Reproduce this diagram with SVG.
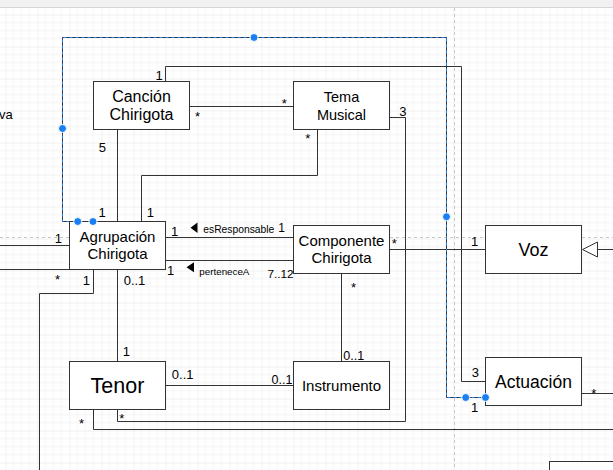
<svg xmlns="http://www.w3.org/2000/svg" width="613" height="470" viewBox="0 0 613 470">
<style>
  .node rect { fill: #ffffff; stroke: #333333; stroke-width: 1; }
  .name { font-family: "Liberation Sans", Arial, sans-serif; fill: #000000; text-anchor: middle; }
  .edge { fill: none; stroke: #333333; stroke-width: 1; }
  .lbl { font-family: "Liberation Sans", Arial, sans-serif; font-size: 13px; fill: #000000; text-anchor: middle; }
  .role { font-family: "Liberation Sans", Arial, sans-serif; font-size: 10.3px; fill: #000000; }
  .sel { fill: none; stroke: #1f7ff0; stroke-width: 1; stroke-dasharray: 3 3; }
  .handle { fill: #1a7ff2; stroke: #ffffff; stroke-width: 1; }
  .pagebreak { fill: none; stroke: #c8c8c8; stroke-width: 1; stroke-dasharray: 3 3; }
</style>
<defs>
  <pattern id="grid" patternUnits="userSpaceOnUse" x="5.5" y="14.5" width="32" height="32">
    <path d="M8 0V32M16 0V32M24 0V32M0 8H32M0 16H32M0 24H32" stroke="#f3f3f3" stroke-width="1" fill="none"/>
    <path d="M0 0V32M0 0H32" stroke="#e4e4e4" stroke-width="1" fill="none"/>
  </pattern>
</defs>

<rect x="0" y="0" width="613" height="470" fill="#ffffff"/>
<rect x="0" y="7" width="613" height="463" fill="url(#grid)"/>
<rect x="0" y="0" width="613" height="7" fill="#f1f1f1"/>
<line x1="0" y1="7.5" x2="613" y2="7.5" stroke="#d5d5d5" stroke-width="1"/>
<path class="pagebreak" d="M454.5 8V470M0 237.5H613"/>

<text class="role" x="-1" y="119" style="font-size:13px">va</text>

<g id="connectors">
  <path class="edge" d="M189.5 106.5H293.5"/>
  <path class="edge" d="M165.5 81.5V66.5H461.5V381.5H485.5"/>
  <path class="edge" d="M117.5 129.5V221.5"/>
  <path class="edge" d="M317.5 129.5V175.5H141.5V221.5"/>
  <path class="edge" d="M389.5 117.5H405.5V421.5H117.5V409.5"/>
  <path class="edge" d="M93.5 409.5V429.5H613"/>
  <path class="edge" d="M165.5 237.5H293.5"/>
  <path class="edge" d="M165.5 260.5H293.5"/>
  <path class="edge" d="M389.5 249.5H485.5"/>
  <path class="edge" d="M613 249.5H597.5"/>
  <polygon points="582.5,249.5 597.5,242 597.5,257" fill="#ffffff" stroke="#333333" stroke-width="1"/>
  <path class="edge" d="M341.5 273.5V361.5"/>
  <path class="edge" d="M165.5 385.5H293.5"/>
  <path class="edge" d="M117.5 269.5V361.5"/>
  <path class="edge" d="M0 245.5H69.5"/>
  <path class="edge" d="M0 269.5H70.5V256.5"/>
  <path class="edge" d="M93.5 269.5V293.5H39.5V470"/>
  <path class="edge" d="M581.5 393.5H613"/>
  <path class="edge" d="M93.5 221.5H62.5V37.5H446.5V397.5H485.5" stroke="#555555"/>
  <path class="sel" d="M93.5 221.5H62.5V37.5H446.5V397.5H485.5"/>
  <polygon points="190.5,227.7 197.5,222.5 197.5,233" fill="#000000"/>
  <polygon points="186.5,267.3 194,262.3 194,272.3" fill="#000000"/>
</g>

<g id="node-cancion" class="node">
  <rect x="93.5" y="81.5" width="96" height="48"/>
  <text class="name" x="141.5" y="101.5" font-size="16">Canción</text>
  <text class="name" x="141.5" y="120" font-size="16">Chirigota</text>
</g>
<g id="node-tema" class="node">
  <rect x="293.5" y="81.5" width="96" height="48"/>
  <text class="name" x="341.5" y="101.5" font-size="14.5">Tema</text>
  <text class="name" x="341.5" y="120" font-size="14.5">Musical</text>
</g>
<g id="node-agrupacion" class="node">
  <rect x="69.5" y="221.5" width="96" height="48"/>
  <text class="name" x="117.5" y="241.7" font-size="15">Agrupación</text>
  <text class="name" x="117.5" y="259" font-size="15">Chirigota</text>
</g>
<g id="node-componente" class="node">
  <rect x="293.5" y="225.5" width="96" height="48"/>
  <text class="name" x="341.5" y="245.7" font-size="15">Componente</text>
  <text class="name" x="341.5" y="263.3" font-size="15">Chirigota</text>
</g>
<g id="node-voz" class="node">
  <rect x="485.5" y="225.5" width="96" height="48"/>
  <text class="name" x="533.5" y="255.7" font-size="18">Voz</text>
</g>
<g id="node-tenor" class="node">
  <rect x="69.5" y="361.5" width="96" height="48"/>
  <text class="name" x="117.5" y="393.3" font-size="21.5">Tenor</text>
</g>
<g id="node-instrumento" class="node">
  <rect x="293.5" y="361.5" width="96" height="48"/>
  <text class="name" x="341.5" y="390.7" font-size="15">Instrumento</text>
</g>
<g id="node-actuacion" class="node">
  <rect x="485.5" y="357.5" width="96" height="48"/>
  <text class="name" x="533.5" y="387.7" font-size="17.5">Actuación</text>
</g>
<g id="node-partial" class="node">
  <rect x="549.5" y="461.5" width="100" height="40"/>
</g>

<g id="handles">
  <circle class="handle" cx="254" cy="37.5" r="4"/>
  <circle class="handle" cx="62.5" cy="128.5" r="4"/>
  <circle class="handle" cx="77.7" cy="221.5" r="4"/>
  <circle class="handle" cx="93" cy="221.5" r="4"/>
  <circle class="handle" cx="446.5" cy="216.7" r="4"/>
  <circle class="handle" cx="465.7" cy="397.5" r="4"/>
  <circle class="handle" cx="485.5" cy="397.5" r="4"/>
</g>

<g id="labels">
  <text class="lbl" x="159" y="80">1</text>
  <text class="lbl" x="197.5" y="121">*</text>
  <text class="lbl" x="284.2" y="108">*</text>
  <text class="lbl" x="102.3" y="152">5</text>
  <text class="lbl" x="102.2" y="217">1</text>
  <text class="lbl" x="150.3" y="217">1</text>
  <text class="lbl" x="307.8" y="143">*</text>
  <text class="lbl" x="402.8" y="115.7">3</text>
  <text class="lbl" x="174.5" y="236">1</text>
  <text class="role" x="203.3" y="232.7">esResponsable</text>
  <text class="lbl" x="281.7" y="232" style="font-size:12px">1</text>
  <text class="lbl" x="170.7" y="275.3">1</text>
  <text class="role" x="199.3" y="274.5" style="font-size:9.8px">perteneceA</text>
  <text class="lbl" x="280.5" y="278.3" style="font-size:11.8px">7..12</text>
  <text class="lbl" x="58.3" y="243.3">1</text>
  <text class="lbl" x="57.5" y="284">*</text>
  <text class="lbl" x="86.3" y="285">1</text>
  <text class="lbl" x="134.5" y="285">0..1</text>
  <text class="lbl" x="126.3" y="355.7">1</text>
  <text class="lbl" x="182.7" y="379.3">0..1</text>
  <text class="lbl" x="282" y="384" style="font-size:12.5px">0..1</text>
  <text class="lbl" x="81.5" y="428">*</text>
  <text class="lbl" x="121.7" y="423">*</text>
  <text class="lbl" x="394.2" y="248">*</text>
  <text class="lbl" x="474.5" y="245.7">1</text>
  <text class="lbl" x="353.5" y="292">*</text>
  <text class="lbl" x="353.7" y="360" style="font-size:12.5px">0..1</text>
  <text class="lbl" x="475.3" y="376.7">3</text>
  <text class="lbl" x="474.7" y="412">1</text>
  <text class="lbl" x="593.8" y="398">*</text>
</g>
</svg>
